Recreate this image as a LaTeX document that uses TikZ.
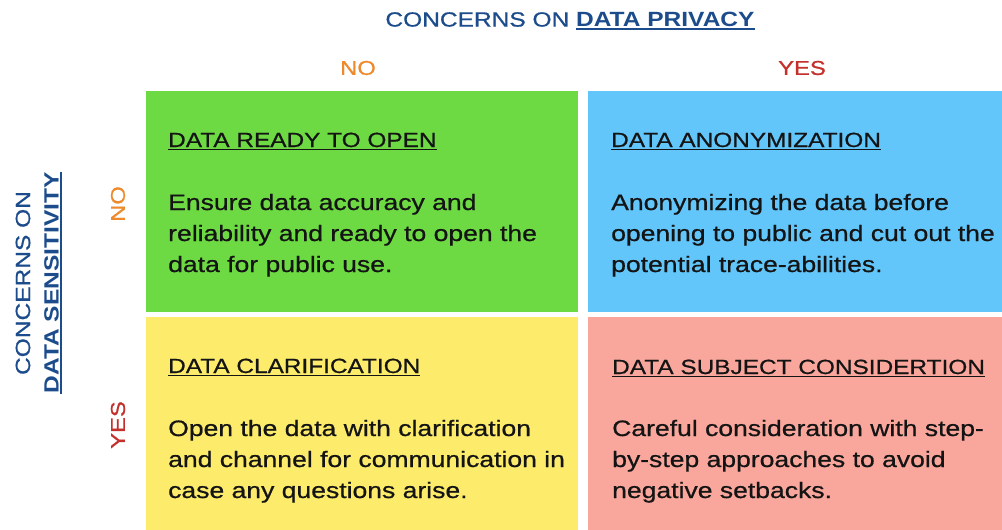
\documentclass[tikz,border=0pt]{standalone}
\usepackage{fontspec}
\setmainfont{Liberation Sans}[FakeStretch=1.19,UprightFeatures={FakeBold=0.7}]
\definecolor{navy}{HTML}{1C4C8C}
\definecolor{noorange}{HTML}{EE8A2B}
\definecolor{yesred}{HTML}{C4302B}
\definecolor{cellgreen}{HTML}{6DDA43}
\definecolor{cellblue}{HTML}{62C6FB}
\definecolor{cellyellow}{HTML}{FDEC6B}
\definecolor{cellsalmon}{HTML}{F9A79C}
\definecolor{ink}{HTML}{141414}
% underline drawn as a rule a little below the baseline
\newcommand\underlined[2][1.3pt]{\setbox0\hbox{#2}\rlap{\rule[-3.2pt]{\wd0}{#1}}\box0}
\begin{document}
\begin{tikzpicture}[x=1pt,y=-1pt,
  cell/.style={draw=none,inner sep=0,anchor=north west,minimum width=#1},
  axis/.style={text=navy,inner sep=0,font=\fontsize{20.6}{24}\selectfont},
  answer/.style={inner sep=0,font=\fontsize{20}{24}\selectfont},
  celltitle/.style={text=ink,inner sep=0,anchor=base west,font=\fontsize{20.5}{24}\selectfont},
  % the base anchor of a multi-line body sits on its last line
  cellbody/.style={text=ink,inner sep=0,anchor=base west,align=left,font=\fontsize{22.3}{31}\selectfont}]
\useasboundingbox (0,0) rectangle (1002,530);
\fill[white] (0,0) rectangle (1002,530);

% the four quadrants
\node[cell=432pt,minimum height=221pt,fill=cellgreen] (green) at (146,91) {};
\node[cell=414pt,minimum height=221pt,fill=cellblue] (blue) at (588,91) {};
\node[cell=432pt,minimum height=213pt,fill=cellyellow] (yellow) at (146,317) {};
\node[cell=414pt,minimum height=213pt,fill=cellsalmon] (salmon) at (588,317) {};

% axis headings
\node[axis] (privacy) at (570,21) {CONCERNS ON \underlined[1.5pt]{\bfseries DATA PRIVACY}};
\node[axis,rotate=90] (sens1) at (23,283) {CONCERNS ON};
\node[axis,rotate=90] (sens2) at (53,283) {\underlined[1.5pt]{\bfseries DATA SENSITIVITY}};

\node[answer,text=noorange] (colno) at (358,68) {NO};
\node[answer,text=yesred] (colyes) at (802,68) {YES};
\node[answer,text=noorange,rotate=90] (rowno) at (118,204) {NO};
\node[answer,text=yesred,rotate=90] (rowyes) at (118,425) {YES};

% quadrant texts
\node[celltitle] (t1) at (168,147) {\underlined{DATA READY TO OPEN}};
\node[cellbody] (b1) at (168,272) {Ensure data accuracy and\\reliability and ready to open the\\data for public use.};

\node[celltitle] (t2) at (611,147) {\underlined{DATA ANONYMIZATION}};
\node[cellbody] (b2) at (611,272) {Anonymizing the data before\\opening to public and cut out the\\potential trace-abilities.};

\node[celltitle] (t3) at (168,373) {\underlined{DATA CLARIFICATION}};
\node[cellbody] (b3) at (168,498) {Open the data with clarification\\and channel for communication in\\case any questions arise.};

\node[celltitle] (t4) at (612,374) {\underlined{DATA SUBJECT CONSIDERTION}};
\node[cellbody] (b4) at (612,498) {Careful consideration with step-\\by-step approaches to avoid\\negative setbacks.};
\end{tikzpicture}
\end{document}
